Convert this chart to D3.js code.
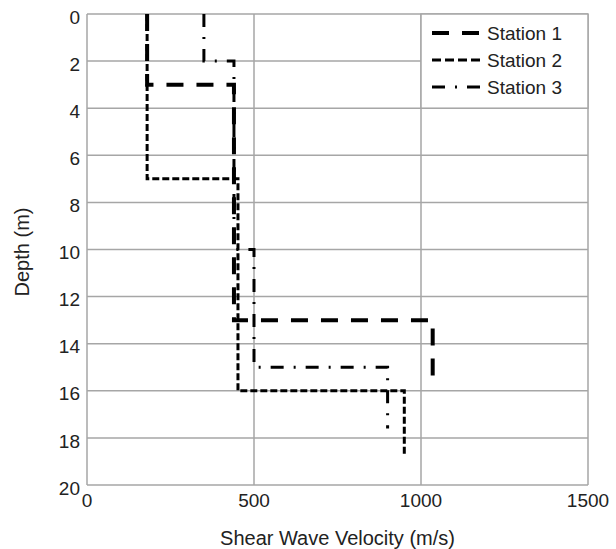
<!DOCTYPE html>
<html><head><meta charset="utf-8">
<script src="https://cdn.jsdelivr.net/npm/d3@7"></script>
<style>body{margin:0;background:#fff}</style>
</head><body><svg id="c" width="616" height="549"></svg>
<script>
const xTicks = [0, 500, 1000, 1500];
const yTicks = [0, 2, 4, 6, 8, 10, 12, 14, 16, 18, 20];
const seriesNames = ["Station 1", "Station 2", "Station 3"];
// layer boundaries (m) and velocities (m/s)
const s1Depths = [0, 3, 13, 15.5];
const s1Vel = [180, 440, 1035];
const s2Depths = [0, 7, 16, 18.8];
const s2Vel = [180, 452, 950];
const s3Depths = [0, 2, 10, 15, 17.6];
const s3Vel = [350, 440, 500, 900];

const W = 616, H = 549;
const m = {l: 87, t: 14, r: 28, b: 64};
const svg = d3.select("#c");
const x = d3.scaleLinear().domain([0, 1500]).range([m.l, W - m.r]);
const y = d3.scaleLinear().domain([0, 20]).range([m.t, H - m.b]);
const font = "Liberation Sans, Arial, sans-serif";
const grid = "#a6a6a6";

// grid
svg.append("g").selectAll("line").data(yTicks).join("line")
  .attr("x1", x(0)).attr("x2", x(1500)).attr("y1", d => y(d)).attr("y2", d => y(d))
  .attr("stroke", grid).attr("stroke-width", 1.5);
svg.append("g").selectAll("line").data(xTicks).join("line")
  .attr("y1", y(0)).attr("y2", y(20)).attr("x1", d => x(d)).attr("x2", d => x(d))
  .attr("stroke", grid).attr("stroke-width", 1.5);

// axes labels
svg.append("g").selectAll("text").data(yTicks).join("text")
  .attr("x", m.l - 7).attr("y", d => y(d) + 3).attr("dy", "0.35em")
  .attr("text-anchor", "end").attr("font-family", font).attr("font-size", 19).attr("fill", "#222")
  .text(d => d);
svg.append("g").selectAll("text").data(xTicks).join("text")
  .attr("x", d => x(d)).attr("y", 507)
  .attr("text-anchor", "middle").attr("font-family", font).attr("font-size", 19).attr("fill", "#222")
  .text(d => d);
svg.append("text").attr("x", (x(0) + x(1500)) / 2).attr("y", 545)
  .attr("text-anchor", "middle").attr("font-family", font).attr("font-size", 20).attr("fill", "#222")
  .text("Shear Wave Velocity (m/s)");
svg.append("text").attr("transform", "translate(29,252) rotate(-90)")
  .attr("text-anchor", "middle").attr("font-family", font).attr("font-size", 20).attr("fill", "#222")
  .text("Depth (m)");

function pts(depths, vel) {
  const p = [];
  vel.forEach((v, i) => { p.push([v, depths[i]]); p.push([v, depths[i + 1]]); });
  return p;
}
const styles = [
  {w: 4, dash: "17,13"},
  {w: 3, dash: "7,3"},
  {w: 3, dash: "13,10,2,10"}
];
const data = [pts(s1Depths, s1Vel), pts(s2Depths, s2Vel), pts(s3Depths, s3Vel)];
const line = d3.line().x(d => x(d[0])).y(d => y(d[1]));
data.forEach((d, i) => {
  svg.append("path").attr("d", line(d)).attr("fill", "none").attr("stroke", "#000")
    .attr("stroke-width", styles[i].w).attr("stroke-dasharray", styles[i].dash);
});

// legend
const lg = svg.append("g");
lg.append("rect").attr("x", x(1000)).attr("y", y(0)).attr("width", x(1500) - x(1000)).attr("height", y(4) - y(0))
  .attr("fill", "#fff").attr("stroke", grid).attr("stroke-width", 1.5);
const ly = [33, 60, 87];
seriesNames.forEach((n, i) => {
  lg.append("line").attr("x1", 432).attr("x2", 480).attr("y1", ly[i]).attr("y2", ly[i])
    .attr("stroke", "#000").attr("stroke-width", styles[i].w).attr("stroke-dasharray", i === 1 ? "9,4" : styles[i].dash);
  lg.append("text").attr("x", 487).attr("y", ly[i]).attr("dy", "0.35em")
    .attr("font-family", font).attr("font-size", 19).attr("fill", "#222").text(n);
});
</script></body></html>
